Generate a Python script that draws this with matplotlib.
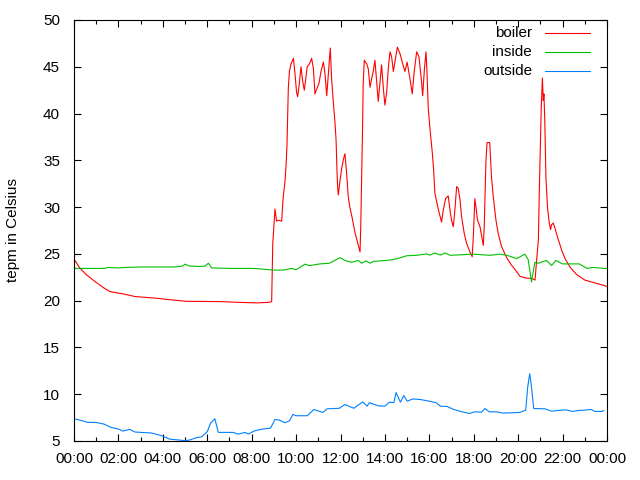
import matplotlib
matplotlib.use("Agg")
import matplotlib.pyplot as plt
from matplotlib.ticker import MultipleLocator
from matplotlib.lines import Line2D

# ---- data (hours since midnight, degrees Celsius) ----
boiler_t = [0, 0.27, 0.57, 0.95, 1.32, 1.62, 2.22, 2.75, 3.72, 4.32, 5.07, 6.57, 7.3, 8.22, 8.8, 8.9,
            8.95, 9.05, 9.12, 9.2, 9.35, 9.42, 9.5, 9.55, 9.59, 9.62, 9.65, 9.7, 9.77, 9.88, 9.95,
            10.02, 10.07, 10.14, 10.22, 10.3, 10.37, 10.43, 10.5, 10.6, 10.7, 10.78, 10.85, 10.94,
            11.03, 11.12, 11.23, 11.3, 11.38, 11.45, 11.54, 11.6, 11.67, 11.75, 11.8, 11.84, 11.87,
            11.9, 11.97, 12.05, 12.14, 12.2, 12.27, 12.35, 12.42, 12.53, 12.65, 12.8, 12.88, 12.91,
            12.95, 12.99, 13.02, 13.07, 13.18, 13.25, 13.33, 13.4, 13.48, 13.55, 13.63, 13.7, 13.78,
            13.85, 13.93, 14.0, 14.08, 14.15, 14.23, 14.3, 14.38, 14.45, 14.56, 14.68, 14.78, 14.9,
            15.0, 15.13, 15.23, 15.32, 15.43, 15.53, 15.63, 15.7, 15.78, 15.85, 15.9, 15.95, 16.04,
            16.13, 16.19, 16.25, 16.33, 16.4, 16.55, 16.63, 16.73, 16.85, 16.93, 17.0, 17.08, 17.15,
            17.23, 17.3, 17.38, 17.45, 17.57, 17.68, 17.83, 17.93, 17.98, 18.05, 18.1, 18.17, 18.28,
            18.35, 18.43, 18.47, 18.55, 18.6, 18.72, 18.8, 18.88, 19.0, 19.1, 19.25, 19.48, 19.7,
            19.9, 20.08, 20.38, 20.6, 20.76, 20.83, 20.91, 20.95, 21.0, 21.04, 21.09, 21.13, 21.16,
            21.2, 21.25, 21.32, 21.4, 21.46, 21.5, 21.58, 21.65, 21.81, 21.96, 22.11, 22.33, 22.63,
            23.0, 23.45, 23.9, 24.0]
boiler_v = [24.45, 23.46, 22.75, 22.04, 21.4, 20.97, 20.72, 20.44, 20.26, 20.1, 19.93, 19.9, 19.83, 19.76, 19.83, 19.9,
            26.1, 29.8, 28.5, 28.6, 28.5, 31.1, 32.7, 34.5, 36.6, 39.8, 42.7, 44.5, 45.3, 45.9, 44.3,
            42.3, 41.8, 43.05, 45.0, 43.4, 42.5, 43.6, 45.0, 45.3, 45.9, 44.8, 42.1, 42.7,
            43.2, 44.5, 45.5, 44.3, 41.9, 44.1, 47.0, 43.7, 41.4, 39.1, 37.2, 34.0, 32.2,
            31.3, 32.7, 34.1, 35.2, 35.7, 33.8, 31.1, 30.0, 28.8, 27.3, 25.9, 25.2, 27.7,
            32.9, 38.1, 43.05, 45.7, 45.3, 44.8, 42.8, 43.7, 44.6, 45.7, 43.4, 41.3, 43.4,
            45.2, 42.7, 40.9, 42.3, 44.8, 46.6, 46.1, 44.5, 45.5, 47.1, 46.4, 45.5, 44.5,
            45.5, 43.7, 42.1, 44.5, 46.6, 46.1, 43.9, 41.9, 44.8, 46.6, 44.1, 40.6, 38.1,
            35.9, 34.1, 31.5, 30.6, 29.8, 28.4, 29.7, 30.9, 31.2, 29.7, 28.6, 27.9, 29.7,
            32.2, 32.0, 30.8, 29.0, 27.2, 26.1, 25.2, 24.7, 26.8, 30.9, 30.0, 28.6, 27.9,
            27.0, 25.9, 27.8, 35.0, 36.9, 36.9, 33.2, 31.1, 28.6, 27.2, 25.8, 24.6, 23.8,
            23.2, 22.6, 22.4, 22.4, 22.2, 24.3, 26.5, 31.5, 36.5, 40.7, 43.8, 41.4, 42.1,
            39.1, 33.2, 30.0, 28.3, 27.6, 28.1, 28.3, 27.8, 26.5, 25.4, 24.5, 23.6, 22.8,
            22.2, 21.9, 21.6, 21.5]

inside_t = [0, 1.4, 1.5, 2.0, 2.3, 3.0, 4.5, 4.9, 5.0, 5.2, 5.7, 5.9, 6.05, 6.2, 7.0, 8.0, 8.37, 8.97,
            9.43, 9.8, 10.0, 10.4, 10.6, 11.07, 11.5, 11.98, 12.2, 12.5, 12.8, 12.95, 13.15, 13.33,
            13.48, 14.08, 14.5, 14.98, 15.43, 15.88, 16.03, 16.25, 16.5, 16.7, 16.93, 17.98, 18.73,
            19.19, 19.49, 19.94, 20.3, 20.45, 20.6, 20.75, 20.9, 21.28, 21.5, 21.7, 22.0, 22.75,
            23.1, 23.35, 23.9, 24.0]
inside_v = [23.45, 23.45, 23.55, 23.5, 23.55, 23.6, 23.6, 23.7, 23.9, 23.7, 23.65, 23.7, 24.0, 23.5, 23.45, 23.45, 23.4, 23.27,
            23.27, 23.45, 23.3, 23.9, 23.75, 23.93, 24.0, 24.6, 24.3, 24.1, 24.3, 24.0, 24.25, 24.0,
            24.2, 24.3, 24.45, 24.8, 24.85, 25.0, 24.87, 25.1, 24.87, 25.1, 24.85, 24.97, 24.85,
            24.97, 24.85, 24.5, 24.97, 24.4, 22.0, 24.1, 24.0, 24.3, 23.75, 24.3, 23.93, 23.93,
            23.45, 23.55, 23.45, 23.45]

outside_t = [0, 0.28, 0.6, 1.0, 1.36, 1.67, 2.0, 2.2, 2.5, 2.75, 3.5, 4.0, 4.3, 4.75, 5.0, 5.2, 5.5, 5.76,
             6.0, 6.15, 6.34, 6.5, 7.15, 7.4, 7.7, 7.85, 8.1, 8.4, 8.85, 9.05, 9.25, 9.5, 9.7, 9.86,
             10.0, 10.5, 10.8, 11.2, 11.4, 11.95, 12.2, 12.6, 13.0, 13.2, 13.3, 13.7, 14.0, 14.2,
             14.4, 14.5, 14.7, 14.85, 15.0, 15.27, 15.6, 15.9, 16.3, 16.5, 16.8, 17.1, 17.4, 17.8,
             18.05, 18.35, 18.5, 18.7, 19.06, 19.3, 20.06, 20.34, 20.43, 20.52, 20.6, 20.7, 21.2,
             21.5, 21.76, 22.15, 22.46, 22.7, 23.0, 23.28, 23.46, 23.77, 23.85]
outside_v = [7.38, 7.23, 7.0, 6.98, 6.8, 6.45, 6.28, 6.06, 6.24, 5.96, 5.85, 5.53, 5.2, 5.1, 5.04, 5.1, 5.35, 5.46,
             6.0, 6.9, 7.38, 5.92, 5.92, 5.74, 5.92, 5.74, 6.06, 6.24, 6.38, 7.3, 7.23, 6.95, 7.16, 7.84,
             7.7, 7.7, 8.37, 8.05, 8.44, 8.5, 8.9, 8.5, 9.18, 8.72, 9.1, 8.76, 8.72, 9.15,
             9.1, 10.18, 9.15, 9.86, 9.26, 9.5, 9.43, 9.3, 9.1, 8.72, 8.69, 8.37, 8.16, 7.94,
             8.12, 8.08, 8.47, 8.12, 8.12, 7.98, 8.05, 8.3, 10.78, 12.2, 10.78, 8.47, 8.44,
             8.19, 8.26, 8.33, 8.16, 8.26, 8.3, 8.37, 8.16, 8.16, 8.26]

series_names = ["boiler", "inside", "outside"]
series_colors = ["#ff0000", "#00c000", "#0080ff"]
x_tick_pos = list(range(0, 25, 2))
x_tick_labels = ["00:00", "02:00", "04:00", "06:00", "08:00", "10:00", "12:00",
                 "14:00", "16:00", "18:00", "20:00", "22:00", "00:00"]
y_label = "tepm in Celsius"

plt.rcParams['font.family'] = ['Liberation Sans', 'DejaVu Sans']
FS = 11

W, H = 640, 480
fig = plt.figure(figsize=(6.4, 4.8), dpi=100)
ax = fig.add_axes([74/W, 39/H, 533/W, 421/H])

for t, v, c in zip([boiler_t, inside_t, outside_t], [boiler_v, inside_v, outside_v], series_colors):
    ax.plot(t, v, color=c, lw=0.8)

ax.set_xlim(0, 24)
ax.set_ylim(5, 50)
ax.set_xticks(x_tick_pos)
ax.set_xticklabels(x_tick_labels)
ax.xaxis.set_minor_locator(MultipleLocator(1))
ax.yaxis.set_major_locator(MultipleLocator(5))
ax.tick_params(which='both', direction='in', top=True, right=True, labelsize=FS, width=0.8, colors='black')
ax.tick_params(which='major', length=5)
ax.tick_params(which='minor', length=3)
ax.tick_params(axis='x', pad=8)
ax.tick_params(axis='y', pad=10)
for s in ax.spines.values():
    s.set_linewidth(0.8)
ax.set_ylabel(y_label, fontsize=FS)
ax.yaxis.set_label_coords((20 - 74) / 533, 0.5)

# legend (gnuplot style: right-aligned text, sample line to the right)
leg_y = [33, 52, 71]
for name, c, yy in zip(series_names, series_colors, leg_y):
    fig.text(532 / W, 1 - yy / H, name, ha='right', va='center', fontsize=FS)
    fig.add_artist(Line2D([545 / W, 590 / W], [1 - yy / H, 1 - yy / H], color=c, lw=0.8,
                          transform=fig.transFigure))

fig.savefig("out.png", dpi=100)
